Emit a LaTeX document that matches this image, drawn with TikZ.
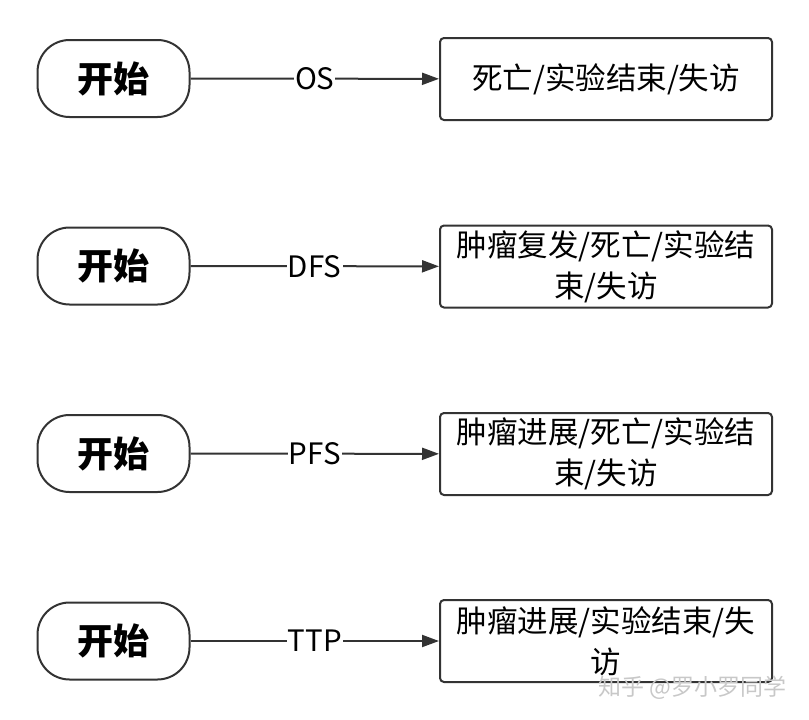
\documentclass[tikz,border=0pt]{standalone}
\usepackage{fontspec}
\setmainfont{Noto Sans CJK SC}
\usetikzlibrary{arrows.meta}
\definecolor{linegray}{HTML}{333333}
\definecolor{markgray}{HTML}{C8C8C8}
\begin{document}
\begin{tikzpicture}[x=1pt,y=-1pt]
      %% Styles for the flow boxes
      \tikzset
      {
      start/.style={draw=linegray, line width=2pt, rounded corners=32pt, minimum width=152pt, minimum height=77pt, inner sep=0pt, font=\fontsize{36}{40}\selectfont\bfseries},
      endpoint/.style={draw=linegray, line width=2pt, rounded corners=4pt, minimum width=332pt, minimum height=82pt, inner sep=0pt, align=center, font=\fontsize{30.5}{41}\selectfont},
      flow/.style={draw=linegray, line width=2pt, -{Triangle[length=17pt, width=12pt]}},
      lbl/.style={fill=white, inner sep=1pt, font=\fontsize{29.5}{32}\selectfont},
      % mark/.style = {...}
      }
      \useasboundingbox (0,0) rectangle (809,720);
      %% Start nodes
      \node[start] (s1) at (113.5,78.5) {开始};
      \node[start] (s2) at (113.5,266) {开始};
      \node[start] (s3) at (113.5,453.5) {开始};
      \node[start] (s4) at (113.5,641) {开始};
      %% End points
      \node[endpoint] (e1) at (606,79) {死亡/实验结束/失访};
      \node[endpoint] (e2) at (606,266.5) {肿瘤复发/死亡/实验结\\束/失访};
      \node[endpoint] (e3) at (606,454) {肿瘤进展/死亡/实验结\\束/失访};
      \node[endpoint] (e4) at (606,641) {肿瘤进展/实验结束/失\\访};
      %% Connectors
      \draw[flow] (s1) -- node[lbl] {OS} (e1);
      \draw[flow] (s2) -- node[lbl] {DFS} (e2);
      \draw[flow] (s3) -- node[lbl] {PFS} (e3);
      \draw[flow] (s4) -- node[lbl] {TTP} (e4);
      %% Watermark
      \node[text=markgray, font=\fontsize{23}{26}\selectfont, anchor=east] (wm) at (790,688) {知乎 @罗小罗同学};
\end{tikzpicture}
\end{document}
